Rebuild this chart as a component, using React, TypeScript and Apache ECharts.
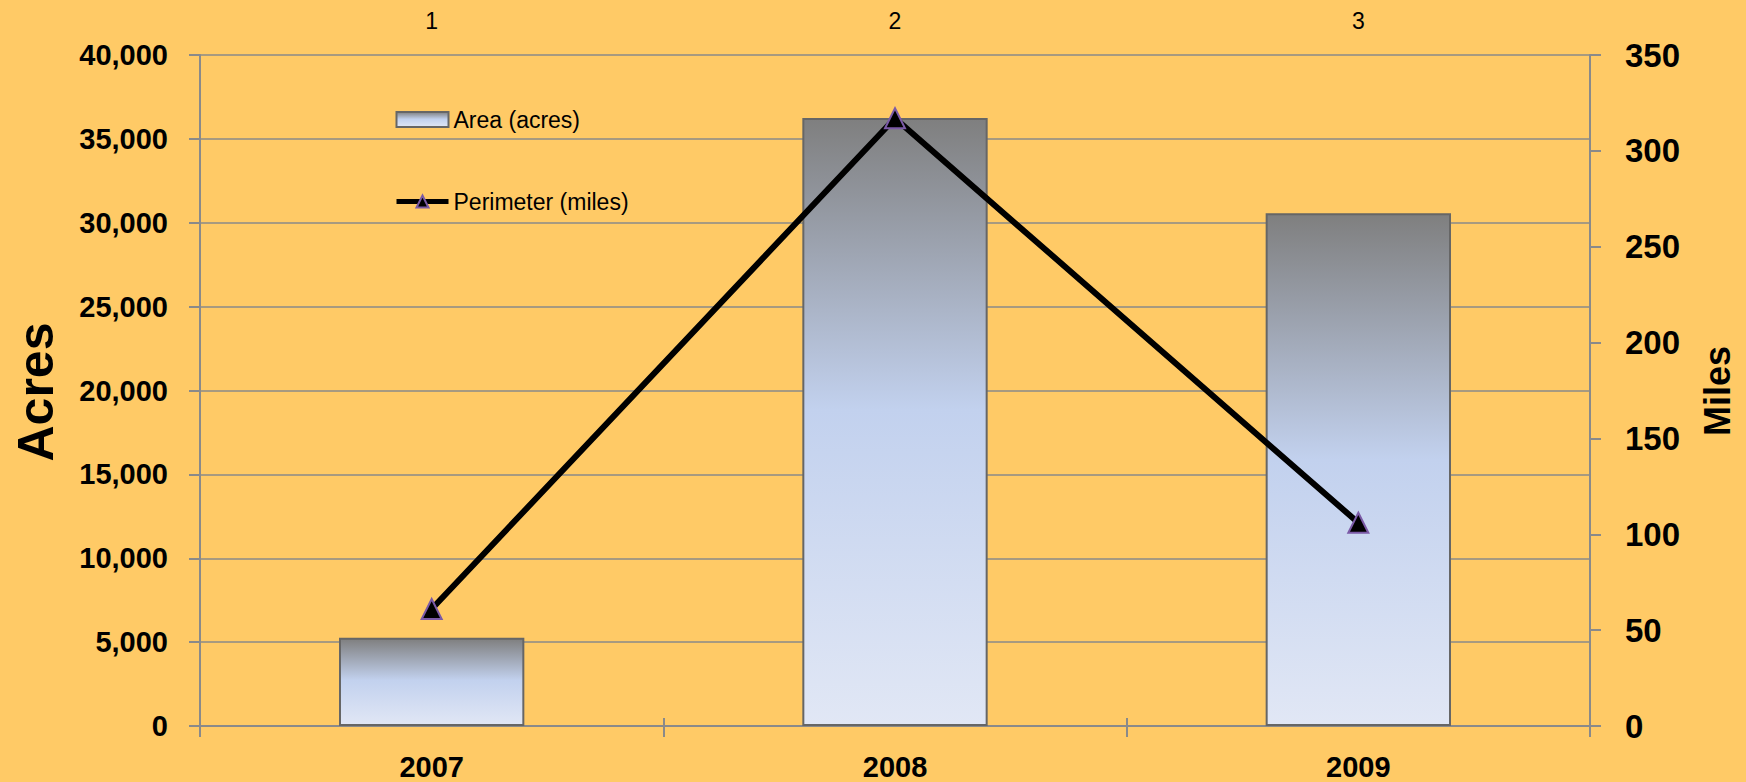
import React, { useEffect, useRef } from "react";
import * as echarts from "echarts";

const years = ["2007", "2008", "2009"];
const topCategories = ["1", "2", "3"];
const areaAcres = [5260, 36240, 30560];
const perimeterMiles = [61, 317, 106];
const areaName = "Area (acres)";
const perimeterName = "Perimeter (miles)";
const leftAxisTitle = "Acres";
const rightAxisTitle = "Miles";

const FONT = "'Liberation Sans', Arial, sans-serif";
const GRAY = "#8a8a8a";

export default function App() {
  const ref = useRef<HTMLDivElement>(null);
  useEffect(() => {
    if (!ref.current) return;
    const chart = echarts.init(ref.current, null, { renderer: "svg" });
    const barGradient = new echarts.graphic.LinearGradient(0, 0, 0, 1, [
      { offset: 0, color: "#7f7f7f" },
      { offset: 0.48, color: "#c2d1ee" },
      { offset: 1, color: "#e1e7f5" },
    ]);
    chart.setOption({
      animation: false,
      backgroundColor: "#FFCA66",
      textStyle: { fontFamily: FONT },
      grid: { left: 200, right: 156, top: 55, bottom: 56 },
      legend: {
        orient: "vertical",
        left: 394,
        top: 108,
        padding: 0,
        itemWidth: 52,
        itemHeight: 15,
        itemGap: 59,
        itemTextGap: 6,
        textStyle: { fontFamily: FONT, fontSize: 23, color: "#000" },
        data: [
          { name: areaName, icon: "rect" },
          { name: perimeterName, lineStyle: { width: 5, color: "#000" } },
        ],
      },
      xAxis: [
        {
          type: "category",
          data: years,
          position: "bottom",
          axisLine: { lineStyle: { color: GRAY, width: 2 } },
          axisTick: { show: true, length: 11, lineStyle: { color: GRAY, width: 2 } },
          axisLabel: { fontSize: 29, fontWeight: "bold", color: "#000", margin: 26, fontFamily: FONT },
        },
        {
          type: "category",
          data: topCategories,
          position: "top",
          axisLine: { lineStyle: { color: GRAY, width: 2 } },
          axisTick: { show: true, length: 8, lineStyle: { color: GRAY, width: 2 } },
          axisLabel: { fontSize: 23, color: "#000", margin: 23, fontFamily: FONT },
        },
      ],
      yAxis: [
        {
          type: "value",
          min: 0,
          max: 40000,
          interval: 5000,
          position: "left",
          axisLine: { show: true, lineStyle: { color: GRAY, width: 2 } },
          axisTick: { show: true, length: 11, lineStyle: { color: GRAY, width: 2 } },
          splitLine: { show: true, lineStyle: { color: GRAY, width: 1.5 } },
          axisLabel: {
            fontSize: 29,
            fontWeight: "bold",
            color: "#000",
            margin: 32,
            fontFamily: FONT,
            formatter: (v: number) => v.toLocaleString("en-US"),
          },
        },
        {
          type: "value",
          min: 0,
          max: 350,
          interval: 50,
          position: "right",
          axisLine: { show: true, lineStyle: { color: GRAY, width: 2 } },
          axisTick: { show: true, length: 11, lineStyle: { color: GRAY, width: 2 } },
          splitLine: { show: false },
          axisLabel: { fontSize: 33, fontWeight: "bold", color: "#000", margin: 35, fontFamily: FONT },
        },
      ],
      graphic: [
        {
          type: "text",
          x: 36,
          y: 392,
          rotation: Math.PI / 2,
          style: {
            text: leftAxisTitle,
            font: `bold 50px ${FONT}`,
            fill: "#000",
            align: "center",
            verticalAlign: "middle",
          },
        },
        {
          type: "text",
          x: 1717,
          y: 391,
          rotation: Math.PI / 2,
          style: {
            text: rightAxisTitle,
            font: `bold 36px ${FONT}`,
            fill: "#000",
            align: "center",
            verticalAlign: "middle",
          },
        },
      ],
      series: [
        {
          name: areaName,
          type: "bar",
          xAxisIndex: 0,
          yAxisIndex: 0,
          data: areaAcres,
          barWidth: "40%",
          itemStyle: { color: barGradient, borderColor: "#666666", borderWidth: 2 },
          z: 2,
        },
        {
          name: perimeterName,
          type: "line",
          xAxisIndex: 1,
          yAxisIndex: 1,
          data: perimeterMiles,
          symbol: "triangle",
          symbolSize: 20,
          lineStyle: { color: "#000", width: 6 },
          itemStyle: { color: "#000", borderColor: "#7b5aa6", borderWidth: 2 },
          z: 5,
        },
      ],
    });
    return () => chart.dispose();
  }, []);
  return (
    <div
      ref={ref}
      style={{ position: "fixed", left: 0, top: 0, width: 1746, height: 782 }}
    />
  );
}
